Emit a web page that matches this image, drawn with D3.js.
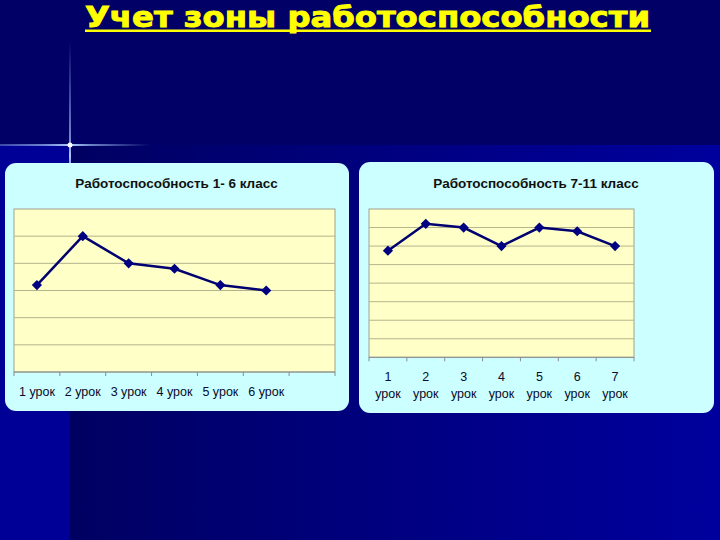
<!DOCTYPE html>
<html><head><meta charset="utf-8">
<script src="https://cdn.jsdelivr.net/npm/d3@7"></script>
<style>body{margin:0;background:#000066;}svg{display:block;}</style>
</head><body>
<script>
const mainTitle = "Учет зоны работоспособности";
const title1 = "Работоспособность 1- 6 класс";
const categories1 = ["1 урок","2 урок","3 урок","4 урок","5 урок","6 урок",""];
const values1 = [3.2, 5.0, 4.0, 3.8, 3.2, 3.0];
const yMax1 = 6;

const title2 = "Работоспособность 7-11 класс";
const categories2 = ["1","2","3","4","5","6","7"];
const categoryWord2 = "урок";
const values2 = [5.75, 7.2, 7.0, 6.0, 7.0, 6.8, 6.0];
const yMax2 = 8;

const W = 720, H = 540;
const svg = d3.select("body").append("svg").attr("width", W).attr("height", H);
const defs = svg.append("defs");

// background
const gBand = defs.append("linearGradient").attr("id","band").attr("x1","0").attr("x2","1");
gBand.append("stop").attr("offset","0").attr("stop-color","#000062");
gBand.append("stop").attr("offset","1").attr("stop-color","#00009e");
svg.append("rect").attr("width",W).attr("height",H).attr("fill","#000066");
svg.append("rect").attr("x",70).attr("y",145).attr("width",W-70).attr("height",H-145).attr("fill","url(#band)");
svg.append("rect").attr("x",0).attr("y",145).attr("width",70).attr("height",H-145).attr("fill","#000096");

// sparkle
const gV = defs.append("linearGradient").attr("id","sv").attr("x1","0").attr("x2","0").attr("y1","0").attr("y2","1");
[[0,0],[0.65,0.7],[0.72,1],[0.8,0.7],[1,0]].forEach(s=>gV.append("stop").attr("offset",s[0]).attr("stop-color","#aaccff").attr("stop-opacity",s[1]));
const gH = defs.append("linearGradient").attr("id","sh").attr("x1","0").attr("x2","1");
[[0,0.35],[0.3,0.65],[0.47,1],[0.6,0.65],[1,0]].forEach(s=>gH.append("stop").attr("offset",s[0]).attr("stop-color","#aaccff").attr("stop-opacity",s[1]));
svg.append("rect").attr("x",69).attr("y",40).attr("width",2).attr("height",160).attr("fill","url(#sv)");
svg.append("rect").attr("x",0).attr("y",144).attr("width",150).attr("height",2).attr("fill","url(#sh)");
svg.append("circle").attr("cx",70).attr("cy",145).attr("r",2.5).attr("fill","#ffffff");

// main title
svg.append("text").attr("x",85).attr("y",27)
  .attr("font-family","DejaVu Sans, Verdana, sans-serif").attr("font-weight","bold")
  .attr("font-size",29).attr("fill","#ffff00").attr("stroke","#ffff00").attr("stroke-width",0.9)
  .text(mainTitle)
  .attr("textLength",565).attr("lengthAdjust","spacingAndGlyphs");
svg.append("rect").attr("x",85).attr("y",29.5).attr("width",566).attr("height",2.5).attr("fill","#ffff00");

function drawChart(o){
  const g = svg.append("g");
  g.append("rect").attr("x",o.box[0]).attr("y",o.box[1]).attr("width",o.box[2]).attr("height",o.box[3])
    .attr("rx",11).attr("fill","#ccffff");
  g.append("text").attr("x",o.titleX).attr("y",o.titleY).attr("text-anchor","middle")
    .attr("font-family","Liberation Sans, Arial, sans-serif").attr("font-weight","bold")
    .attr("font-size",13.5).attr("fill","#111111").text(o.title);
  const x = d3.scaleBand().domain(d3.range(o.cats.length)).range([o.plot[0],o.plot[1]]);
  const y = d3.scaleLinear().domain([0,o.yMax]).range([o.plot[3],o.plot[2]]);
  g.append("rect").attr("x",o.plot[0]).attr("y",o.plot[2]).attr("width",o.plot[1]-o.plot[0]).attr("height",o.plot[3]-o.plot[2])
    .attr("fill","#ffffc8").attr("stroke","#a0a090").attr("stroke-width",1);
  // gridlines
  g.append("g").selectAll("line").data(y.ticks(o.yMax).filter(t=>t>0&&t<o.yMax)).join("line")
    .attr("x1",o.plot[0]).attr("x2",o.plot[1]).attr("y1",d=>y(d)).attr("y2",d=>y(d))
    .attr("stroke","#b4b48c").attr("stroke-width",1);
  // x axis
  const bounds = d3.range(o.cats.length+1).map(i=> o.plot[0] + i*x.step());
  g.append("line").attr("x1",o.plot[0]).attr("x2",o.plot[1]).attr("y1",o.plot[3]).attr("y2",o.plot[3]).attr("stroke","#8c8c8c");
  g.append("g").selectAll("line").data(bounds).join("line")
    .attr("x1",d=>d).attr("x2",d=>d).attr("y1",o.plot[3]).attr("y2",o.plot[3]+4).attr("stroke","#8c8c8c");
  // labels
  const lab = g.append("g").attr("font-family","Liberation Sans, Arial, sans-serif").attr("font-size",12.5).attr("fill","#0a0a2a").attr("text-anchor","middle");
  o.cats.forEach((c,i)=>{
    const cx = x(i)+x.bandwidth()/2;
    lab.append("text").attr("x",cx).attr("y",o.labelY).text(c);
    if(o.word) lab.append("text").attr("x",cx).attr("y",o.labelY+16.5).text(o.word);
  });
  const line = d3.line().x((d,i)=>x(i)+x.bandwidth()/2).y(d=>y(d));
  g.append("path").datum(o.vals).attr("d",line).attr("fill","none").attr("stroke","#000070").attr("stroke-width",2.5);
  g.append("g").selectAll("path").data(o.vals).join("path")
    .attr("d",d3.symbol().type(d3.symbolSquare).size(52))
    .attr("transform",(d,i)=>`translate(${x(i)+x.bandwidth()/2},${y(d)}) rotate(45)`)
    .attr("fill","#000080");
}

drawChart({box:[5,163,344,248], title:title1, titleX:176.5, titleY:188, plot:[14,335,209,372],
  cats:categories1, vals:values1, yMax:yMax1, labelY:396});
drawChart({box:[359,162,355,251], title:title2, titleX:536, titleY:188, plot:[369,634,209,357.3],
  cats:categories2, vals:values2, yMax:yMax2, labelY:381, word:categoryWord2});
</script>
</body></html>
